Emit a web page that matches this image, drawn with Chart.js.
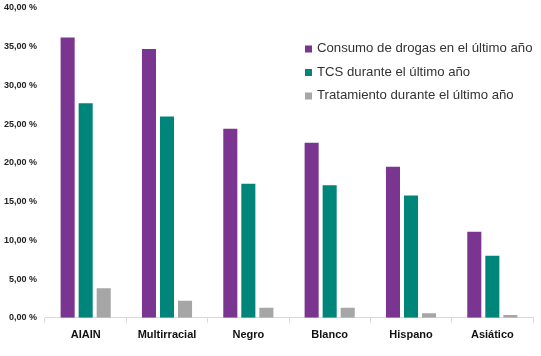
<!DOCTYPE html>
<html><head><meta charset="utf-8">
<script src="https://cdn.jsdelivr.net/npm/chart.js@4"></script>
<style>html,body{margin:0;padding:0;background:#fff}#w{width:541px;height:356px}</style>
</head><body><div id="w"><canvas id="c"></canvas></div>
<script>
const categories = ["AIAIN","Multirracial","Negro","Blanco","Hispano","Asiático"];
const consumo = [36.2, 34.7, 24.4, 22.6, 19.5, 11.1];
const tcs = [27.7, 26.0, 17.3, 17.1, 15.8, 8.0];
const tratamiento = [3.8, 2.2, 1.3, 1.3, 0.6, 0.35];
const seriesLabels = ["Consumo de drogas en el último año","TCS durante el último año","Tratamiento durante el último año"];
const yTicks = [0,5,10,15,20,25,30,35,40];

const legendPlugin = {
  id:'inLegend',
  afterDraw(chart){
    const ctx = chart.ctx;
    ctx.save();
    ctx.font = '13.2px "Liberation Sans", Arial, sans-serif';
    ctx.textBaseline = 'middle';
    chart.data.datasets.forEach((ds,i)=>{
      const y = 48.5 + i*23.5;
      ctx.fillStyle = ds.backgroundColor;
      ctx.fillRect(305, y-3, 7, 7);
      ctx.fillStyle = '#333';
      ctx.fillText(ds.label, 317, y);
    });
    ctx.restore();
  }
};

new Chart(document.getElementById('c'), {
  type:'bar',
  data:{
    labels: categories,
    datasets:[
      {label:seriesLabels[0], data:consumo, backgroundColor:'#7A3590'},
      {label:seriesLabels[1], data:tcs, backgroundColor:'#00857A'},
      {label:seriesLabels[2], data:tratamiento, backgroundColor:'#A6A6A6'}
    ]
  },
  options:{
    responsive:true, maintainAspectRatio:false, animation:false,
    layout:{padding:{top:8,right:8,left:0,bottom:8}},
    datasets:{bar:{categoryPercentage:0.665, barPercentage:0.78}},
    plugins:{legend:{display:false}, tooltip:{enabled:false}},
    scales:{
      x:{
        grid:{display:true, drawOnChartArea:false, drawTicks:true, tickLength:5, color:'#d9d9d9', offset:true},
        border:{display:true, color:'#d9d9d9'},
        ticks:{color:'#111', font:{family:'"Liberation Sans", Arial, sans-serif', size:11, weight:'bold'}, padding:6}
      },
      y:{
        min:0, max:40,
        afterBuildTicks(ax){ ax.ticks = yTicks.map(v=>({value:v})); },
        afterFit(ax){ ax.width = 45; ax.paddingTop = 0; ax.paddingBottom = 0; },
        grid:{display:false, drawTicks:false},
        border:{display:false},
        ticks:{color:'#222', padding:8, font:{family:'"Liberation Sans", Arial, sans-serif', size:9, weight:'bold'},
          callback:(v)=> v.toFixed(2).replace('.',',')+' %'}
      }
    }
  },
  plugins:[legendPlugin]
});
</script></body></html>
